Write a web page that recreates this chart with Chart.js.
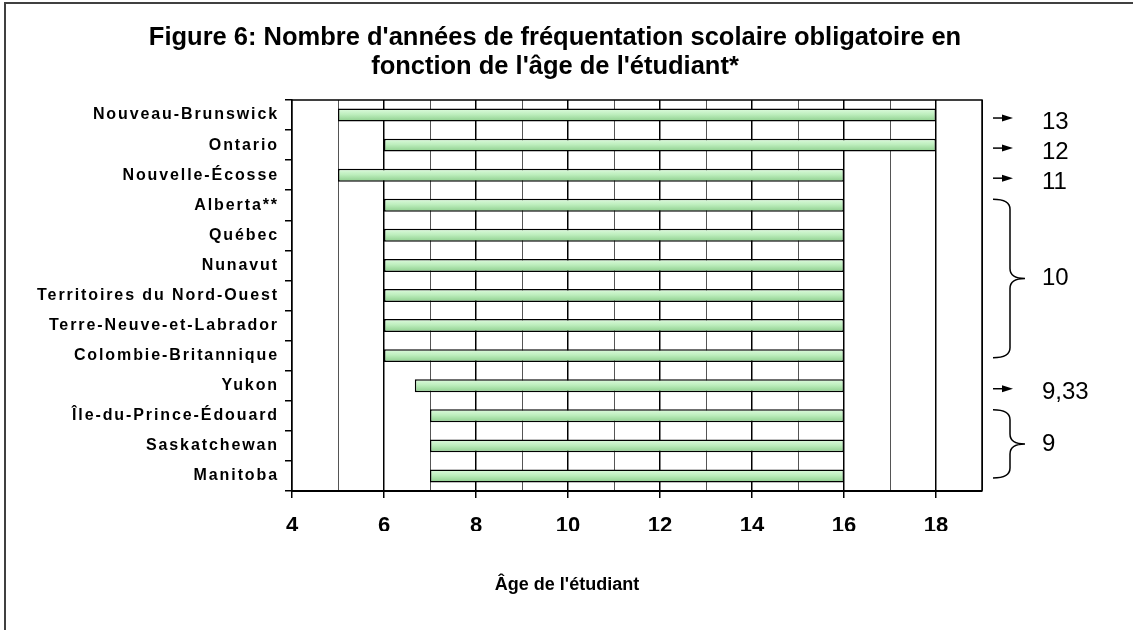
<!DOCTYPE html>
<html lang="fr">
<head>
<meta charset="utf-8">
<title>Figure 6</title>
<script src="https://cdn.jsdelivr.net/npm/chart.js@4.4.1/dist/chart.umd.min.js"></script>
<style>
  html, body { margin: 0; padding: 0; background: #fff; }
  #wrap { width: 1133px; height: 630px; }
</style>
</head>
<body>
<div id="wrap"><canvas id="chart" width="1133" height="630"></canvas></div>
<script>
/* Figure 6 — années de fréquentation scolaire obligatoire */

const provinces = [
  'Nouveau-Brunswick', 'Ontario', 'Nouvelle-Écosse', 'Alberta**', 'Québec', 'Nunavut',
  'Territoires du Nord-Ouest', 'Terre-Neuve-et-Labrador', 'Colombie-Britannique', 'Yukon',
  'Île-du-Prince-Édouard', 'Saskatchewan', 'Manitoba'
];
const startAges = [5, 6, 5, 6, 6, 6, 6, 6, 6, 6.67, 7, 7, 7];
const endAges = [18, 18, 16, 16, 16, 16, 16, 16, 16, 16, 16, 16, 16];
const ageTicks = [4, 6, 8, 10, 12, 14, 16, 18];

const FONT = '"Liberation Sans", Arial, sans-serif';

// years of schooling per province (end - start), shown on the right
const durations = startAges.map((s, i) => Math.round((endAges[i] - s) * 100) / 100);

// light green bar fill, lighter at the top
function barFill(c) {
  const chart = c.chart;
  if (!chart.chartArea || c.dataIndex === undefined) return '#bdeebd';
  const yc = chart.scales.y.getPixelForValue(c.dataIndex);
  const g = chart.ctx.createLinearGradient(0, yc - 6, 0, yc + 6);
  g.addColorStop(0, '#dcfadc');
  g.addColorStop(0.45, '#bdeebd');
  g.addColorStop(1, '#8fcf8f');
  return g;
}

// outer frame + plot top/right border + axis title + right-side notes
const decorations = {
  id: 'decorations',
  beforeDraw(chart) {
    const ctx = chart.ctx;
    ctx.save();
    ctx.fillStyle = '#fff';
    ctx.fillRect(0, 0, chart.width, chart.height);
    ctx.strokeStyle = '#404040';
    ctx.lineWidth = 2;
    ctx.strokeRect(5, 3, 2000, 2000);
    ctx.restore();

    // letter-spaced province labels
    const y = chart.scales.y;
    if (!y._spaced) {
      const orig = y.drawLabels;
      y.drawLabels = function (area) {
        this.ctx.save();
        this.ctx.letterSpacing = '1.9px';
        orig.call(this, area);
        this.ctx.restore();
      };
      y._spaced = true;
    }
  },
  afterDraw(chart) {
    const { ctx, chartArea: a, scales: { y } } = chart;
    ctx.save();
    ctx.strokeStyle = '#000';
    ctx.lineWidth = 1.5;
    ctx.beginPath();
    ctx.moveTo(a.left, a.top);
    ctx.lineTo(a.right, a.top);
    ctx.lineTo(a.right, a.bottom);
    ctx.stroke();

    ctx.fillStyle = '#000';
    ctx.textAlign = 'center';
    ctx.textBaseline = 'middle';
    ctx.font = 'bold 18px ' + FONT;
    ctx.fillText("Âge de l'étudiant", 567, 585);

    // group consecutive provinces with the same duration
    const groups = [];
    durations.forEach((d, i) => {
      const last = groups[groups.length - 1];
      if (last && last.d === d) last.to = i;
      else groups.push({ d, from: i, to: i });
    });

    const x0 = 993, x1 = 1010, x2 = 1025, xNum = 1042, r = 10;
    ctx.font = '24px ' + FONT;
    ctx.textAlign = 'left';
    groups.forEach(g => {
      const label = String(g.d).replace('.', ',');
      if (g.from === g.to) {
        const yy = y.getPixelForValue(g.from) + 3;
        ctx.beginPath();
        ctx.moveTo(x0, yy);
        ctx.lineTo(x0 + 11, yy);
        ctx.stroke();
        ctx.beginPath();
        ctx.moveTo(x0 + 20, yy);
        ctx.lineTo(x0 + 9, yy - 3.5);
        ctx.lineTo(x0 + 9, yy + 3.5);
        ctx.closePath();
        ctx.fill();
        ctx.fillText(label, xNum, yy + 4);
      } else {
        const top = y.getPixelForValue(g.from) - 6;
        const bot = y.getPixelForValue(g.to) + 2;
        const mid = (top + bot) / 2;
        ctx.beginPath();
        ctx.moveTo(x0, top);
        ctx.quadraticCurveTo(x1, top, x1, top + r);
        ctx.lineTo(x1, mid - r);
        ctx.quadraticCurveTo(x1, mid, x2, mid);
        ctx.quadraticCurveTo(x1, mid, x1, mid + r);
        ctx.lineTo(x1, bot - r);
        ctx.quadraticCurveTo(x1, bot, x0, bot);
        ctx.stroke();
        ctx.fillText(label, xNum, mid);
      }
    });
    ctx.restore();
  }
};

const isEven = c => c.tick && c.tick.value % 2 === 0;

new Chart(document.getElementById('chart'), {
  type: 'bar',
  data: {
    labels: provinces,
    datasets: [{
      data: startAges.map((s, i) => [s, endAges[i]]),
      backgroundColor: barFill,
      borderColor: '#000',
      borderWidth: 1.5,
      borderSkipped: false,
      barPercentage: 0.43,
      categoryPercentage: 1
    }]
  },
  options: {
    indexAxis: 'y',
    responsive: false,
    animation: false,
    layout: { padding: { left: 0, top: 0, right: 23, bottom: 99 } },
    plugins: {
      legend: { display: false },
      tooltip: { enabled: false },
      title: {
        display: true,
        text: ["Figure 6: Nombre d'années de fréquentation scolaire obligatoire en", "fonction de l'âge de l'étudiant*"],
        color: '#000',
        font: { family: FONT, size: 25.5, weight: 'bold', lineHeight: 1.137 },
        padding: { top: 23.5, bottom: 18.5 }
      }
    },
    scales: {
      x: {
        type: 'linear',
        position: 'bottom',
        min: 4,
        max: 19,
        ticks: {
          stepSize: 1,
          autoSkip: false,
          maxRotation: 0,
          padding: 15,
          color: '#000',
          font: { family: FONT, size: 22, weight: 'bold' },
          callback: v => ageTicks.includes(v) ? String(v) : ''
        },
        grid: {
          color: c => isEven(c) || (c.tick && c.tick.value === 19) ? '#000' : '#555',
          lineWidth: c => isEven(c) ? 1.5 : 1,
          tickColor: c => isEven(c) && c.tick.value < 19 ? '#000' : 'rgba(0,0,0,0)',
          tickLength: 7
        },
        border: { color: '#000', width: 2 },
        afterFit: s => { s.height = 40; }
      },
      y: {
        position: 'left',
        ticks: {
          autoSkip: false,
          padding: 6,
          color: '#000',
          font: { family: FONT, size: 16, weight: 'bold' }
        },
        grid: { drawOnChartArea: false, color: '#000', lineWidth: 1.5, tickLength: 7 },
        border: { color: '#000', width: 1.5 },
        afterFit: s => { s.width = 292; }
      },
      yR: {
        type: 'linear',
        position: 'right',
        grid: { display: false },
        ticks: { display: false },
        border: { display: false },
        afterFit: s => { s.width = 128; }
      }
    }
  },
  plugins: [decorations]
});
</script>
</body>
</html>
